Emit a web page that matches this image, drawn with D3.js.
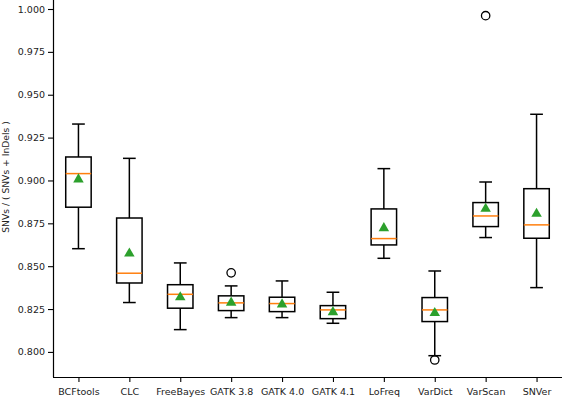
<!DOCTYPE html>
<html>
<head>
<meta charset="utf-8">
<script src="https://cdn.jsdelivr.net/npm/d3@7"></script>
<style>
  body { margin: 0; background: #fff; }
  svg { display: block; }
  text { font-family: "DejaVu Sans", sans-serif; }
</style>
</head>
<body>
<div id="chart"></div>
<script>
(function (d3) {
    "use strict";

    /***** Données *****/
    var callers = ["BCFtools", "CLC", "FreeBayes", "GATK 3.8", "GATK 4.0", "GATK 4.1", "LoFreq", "VarDict", "VarScan", "SNVer"];
    var whiskerLow  = [0.8602, 0.8288, 0.8130, 0.8200, 0.8200, 0.8167, 0.8546, 0.7978, 0.8667, 0.8375];
    var q1          = [0.8844, 0.8402, 0.8255, 0.8241, 0.8235, 0.8194, 0.8624, 0.8177, 0.8731, 0.8663];
    var medians     = [0.9040, 0.8459, 0.8336, 0.8286, 0.8282, 0.8245, 0.8661, 0.8245, 0.8793, 0.8741];
    var q3          = [0.9137, 0.8781, 0.8392, 0.8327, 0.8319, 0.8270, 0.8834, 0.8317, 0.8871, 0.8952];
    var whiskerHigh = [0.9329, 0.9129, 0.8519, 0.8385, 0.8414, 0.8348, 0.9069, 0.8472, 0.8991, 0.9386];
    var means       = [0.9009, 0.8577, 0.8322, 0.8290, 0.8280, 0.8235, 0.8725, 0.8230, 0.8838, 0.8809];
    var outliers    = [[], [], [], [0.8461], [], [], [], [0.7953], [0.9961], []];
    var yTicks = [0.800, 0.825, 0.850, 0.875, 0.900, 0.925, 0.950, 0.975, 1.000];

    /***** Configuration *****/
    const width = 567;
    const height = 401;
    var margin = { top: 0, right: 5, bottom: 24, left: 53 };
    var plotW = width - margin.left - margin.right;
    var plotH = height - margin.top - margin.bottom;

    var boxes = callers.map(function (c, i) {
        return { name: c, pos: i + 1, lo: whiskerLow[i], q1: q1[i], med: medians[i],
                 q3: q3[i], hi: whiskerHigh[i], mean: means[i], fliers: outliers[i] };
    });

    /***** Échelles *****/
    var x = d3.scaleLinear().domain([0.5, callers.length + 0.5]).range([0, plotW]);
    var y = d3.scaleLinear().domain([0.78537, 1.00525]).range([plotH, 0]);
    var unit = x(1) - x(0);
    var boxW = 0.5 * unit;
    var capW = 0.25 * unit;

    var svg = d3.select("#chart").append("svg")
        .attr("width", width)
        .attr("height", height);

    var g = svg.append("g")
        .attr("transform", "translate(" + margin.left + "," + margin.top + ")");

    // Axes
    var yAxis = d3.axisLeft(y).tickValues(yTicks).tickFormat(d3.format(".3f")).tickSize(5).tickPadding(3);
    var xAxis = d3.axisBottom(x).tickValues(boxes.map(b => b.pos))
        .tickFormat((d, i) => callers[i]).tickSize(5).tickPadding(6);

    var gy = g.append("g").call(yAxis);
    var gx = g.append("g").attr("transform", "translate(0," + plotH + ")").call(xAxis);

    [gy, gx].forEach(function (a) {
        a.select(".domain").attr("stroke", "#000").attr("stroke-width", 1.2);
        a.selectAll(".tick line").attr("stroke", "#000").attr("stroke-width", 1.1);
        a.selectAll(".tick text").attr("fill", "#222").style("font-size", "9.5px");
    });
    gy.select(".domain").attr("d", "M0.5," + plotH + "V0");
    gx.select(".domain").attr("d", "M0," + 0.5 + "H" + plotW);

    // Titre de l'axe y
    svg.append("text")
        .attr("transform", "translate(9," + 177 + ") rotate(-90)")
        .attr("text-anchor", "middle")
        .style("font-size", "9.2px")
        .attr("fill", "#222")
        .text("SNVs / ( SNVs + InDels )");

    /***** Boîtes *****/
    var bg = g.selectAll(".box").data(boxes).enter().append("g").attr("class", "box");
    var lw = 1.5;

    // moustaches
    bg.append("line").attr("x1", d => x(d.pos)).attr("x2", d => x(d.pos))
        .attr("y1", d => y(d.q3)).attr("y2", d => y(d.hi))
        .attr("stroke", "#000").attr("stroke-width", lw);
    bg.append("line").attr("x1", d => x(d.pos)).attr("x2", d => x(d.pos))
        .attr("y1", d => y(d.q1)).attr("y2", d => y(d.lo))
        .attr("stroke", "#000").attr("stroke-width", lw);
    // caps
    bg.append("line").attr("x1", d => x(d.pos) - capW / 2).attr("x2", d => x(d.pos) + capW / 2)
        .attr("y1", d => y(d.hi)).attr("y2", d => y(d.hi))
        .attr("stroke", "#000").attr("stroke-width", lw);
    bg.append("line").attr("x1", d => x(d.pos) - capW / 2).attr("x2", d => x(d.pos) + capW / 2)
        .attr("y1", d => y(d.lo)).attr("y2", d => y(d.lo))
        .attr("stroke", "#000").attr("stroke-width", lw);
    // boîte
    bg.append("rect")
        .attr("x", d => x(d.pos) - boxW / 2)
        .attr("width", boxW)
        .attr("y", d => y(d.q3))
        .attr("height", d => y(d.q1) - y(d.q3))
        .attr("fill", "none").attr("stroke", "#000").attr("stroke-width", lw);
    // médiane
    bg.append("line").attr("x1", d => x(d.pos) - boxW / 2).attr("x2", d => x(d.pos) + boxW / 2)
        .attr("y1", d => y(d.med)).attr("y2", d => y(d.med))
        .attr("stroke", "#ff7f0e").attr("stroke-width", lw);
    // valeurs aberrantes
    bg.selectAll(".flier").data(d => d.fliers.map(v => ({ pos: d.pos, v: v }))).enter()
        .append("circle").attr("class", "flier")
        .attr("cx", d => x(d.pos)).attr("cy", d => y(d.v)).attr("r", 4.2)
        .attr("fill", "none").attr("stroke", "#000").attr("stroke-width", 1.3);
    // moyenne
    var tri = d3.symbol().type(d3.symbolTriangle).size(48);
    bg.append("path")
        .attr("d", tri)
        .attr("transform", d => "translate(" + x(d.pos) + "," + (y(d.mean) + 0.5) + ")")
        .attr("fill", "#2ca02c");

})(d3);
</script>
</body>
</html>
